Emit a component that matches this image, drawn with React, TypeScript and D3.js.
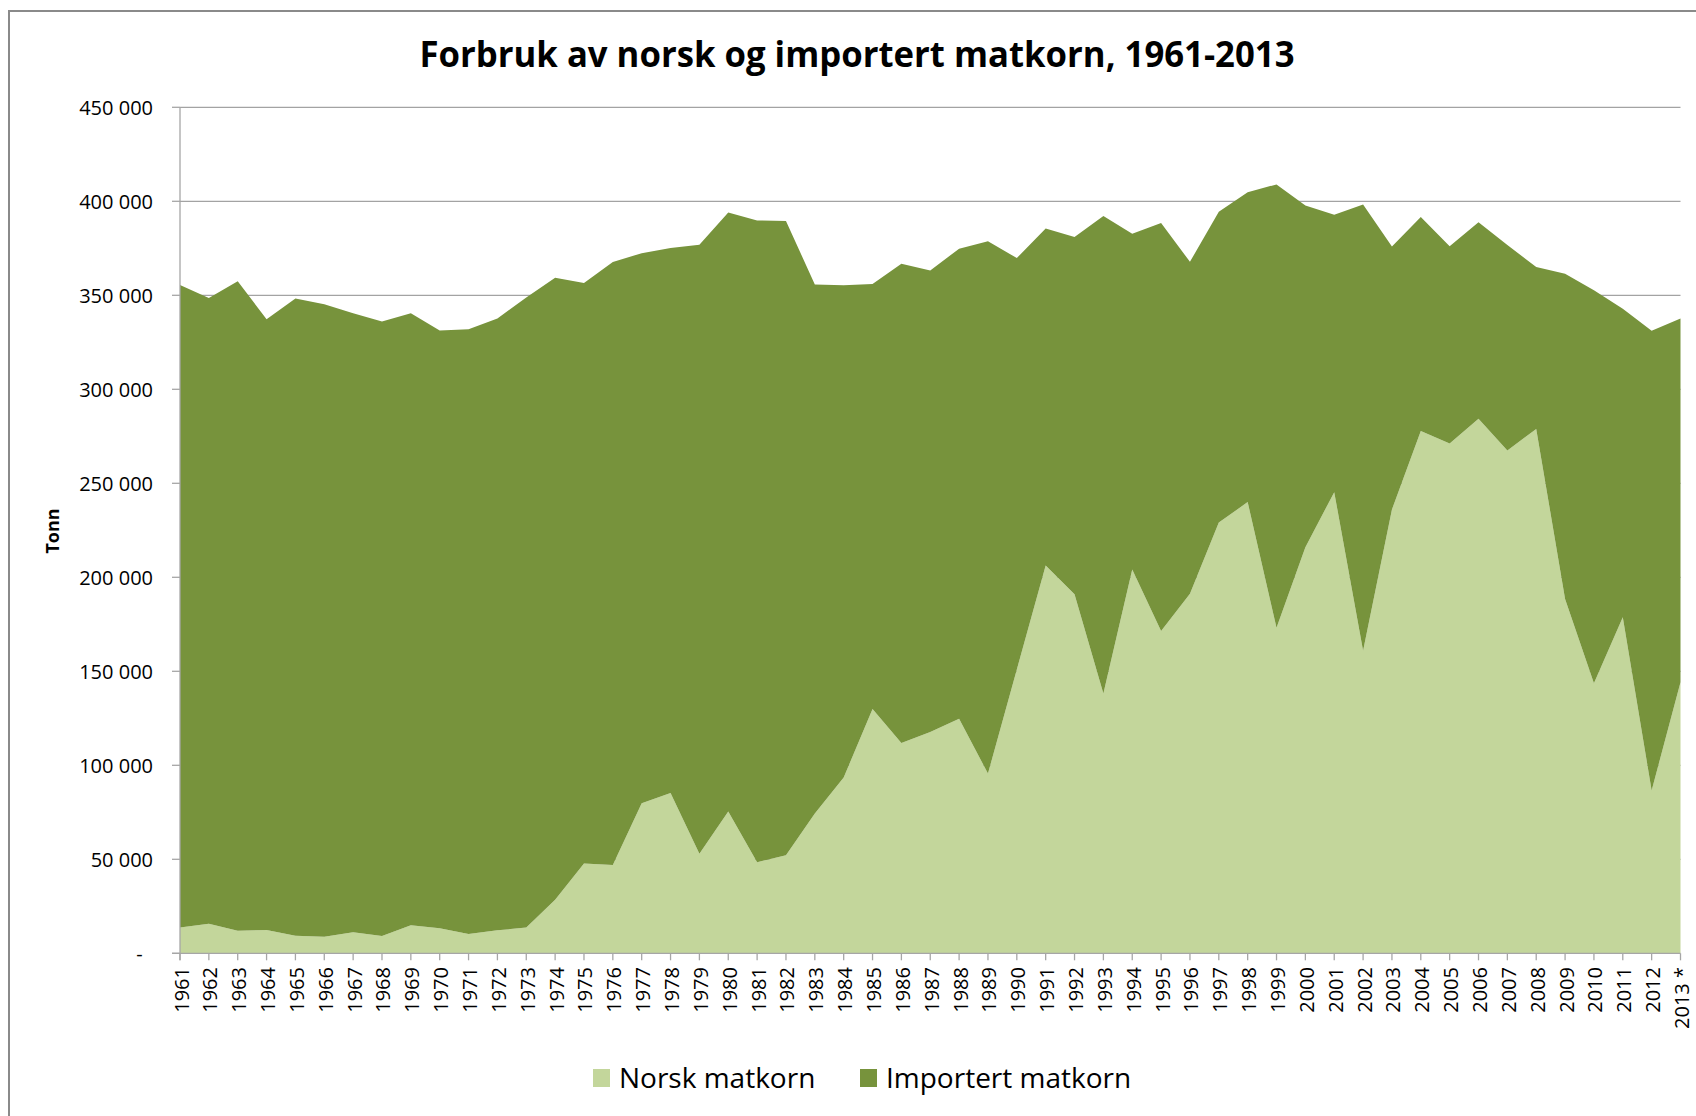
import { useEffect, useRef } from 'react'
import * as d3 from 'd3'

const years = [
  '1961', '1962', '1963', '1964', '1965', '1966', '1967', '1968', '1969', '1970',
  '1971', '1972', '1973', '1974', '1975', '1976', '1977', '1978', '1979', '1980',
  '1981', '1982', '1983', '1984', '1985', '1986', '1987', '1988', '1989', '1990',
  '1991', '1992', '1993', '1994', '1995', '1996', '1997', '1998', '1999', '2000',
  '2001', '2002', '2003', '2004', '2005', '2006', '2007', '2008', '2009', '2010',
  '2011', '2012', '2013 *',
]

// tonn
const norsk = [
  13700, 15700, 12000, 12400, 9400, 8800, 11200, 9200, 14900, 13300,
  10200, 12200, 13700, 28500, 47800, 47000, 79800, 85200, 53000, 75400,
  48400, 52200, 74300, 93500, 130000, 111800, 117700, 124700, 95600, 151000,
  206300, 191000, 138200, 204200, 171400, 191300, 229100, 240000, 173100, 216000,
  245300, 160900, 236100, 277800, 271200, 284300, 267500, 278900, 188500, 143700,
  178800, 86600, 144200,
]

const importert = [
  341800, 332900, 345500, 324900, 338900, 336500, 329300, 326800, 325600, 318000,
  321800, 325500, 335100, 330900, 308700, 320700, 292600, 290000, 323900, 318600,
  341400, 337300, 281500, 261900, 226000, 255000, 245500, 250100, 283200, 218800,
  179200, 190000, 254000, 178500, 217100, 176500, 165400, 164800, 235900, 181800,
  147500, 237400, 139900, 113900, 104900, 104600, 109300, 86100, 173000, 209000,
  164100, 244500, 193400,
]

const yTicks = [0, 50000, 100000, 150000, 200000, 250000, 300000, 350000, 400000, 450000]
const seriesNames = ['Norsk matkorn', 'Importert matkorn']
const seriesColors = ['#C3D69B', '#77933C']

const W = 1696
const H = 1116

export default function App() {
  const ref = useRef<SVGSVGElement | null>(null)
  useEffect(() => {
    const svg = d3.select(ref.current)
    svg.selectAll('*').remove()
    const left = 180
    const right = 1680.5
    const top = 107.3
    const bottom = 953.3

    svg.append('rect').attr('width', W).attr('height', H).attr('fill', '#fff')
    svg.append('rect')
      .attr('x', 9).attr('y', 11).attr('width', W + 20).attr('height', H + 20)
      .attr('fill', 'none').attr('stroke', '#8a8a8a').attr('stroke-width', 2)

    const x = d3.scalePoint<string>().domain(years).range([left, right]).padding(0)
    const y = d3.scaleLinear().domain([0, 450000]).range([bottom, top])

    const rows = years.map((yr, i) => ({ year: yr, norsk: norsk[i], importert: importert[i] }))
    const stacked = d3.stack<any>().keys(['norsk', 'importert'])(rows)

    // gridlines under the areas
    svg.append('g')
      .selectAll('line')
      .data(yTicks.filter((t) => t > 0))
      .enter()
      .append('line')
      .attr('x1', left).attr('x2', right)
      .attr('y1', (d) => y(d)).attr('y2', (d) => y(d))
      .attr('stroke', '#8c8c8c').attr('stroke-width', 1)

    const area = d3
      .area<any>()
      .x((d: any) => x(d.data.year) as number)
      .y0((d: any) => y(d[0]))
      .y1((d: any) => y(d[1]))

    stacked.forEach((s, i) => {
      svg.append('path').datum(s).attr('d', area as any).attr('fill', seriesColors[i])
    })

    // axes
    const axisCol = '#a6a6a6'
    svg.append('line').attr('x1', left).attr('x2', left).attr('y1', top).attr('y2', bottom + 7)
      .attr('stroke', axisCol).attr('stroke-width', 1.3)
    svg.append('line').attr('x1', left - 8).attr('x2', right).attr('y1', bottom).attr('y2', bottom)
      .attr('stroke', axisCol).attr('stroke-width', 1.3)

    const yg = svg.append('g')
    yTicks.forEach((t) => {
      yg.append('line').attr('x1', left - 8).attr('x2', left).attr('y1', y(t)).attr('y2', y(t))
        .attr('stroke', axisCol).attr('stroke-width', 1.3)
      yg.append('text')
        .attr('x', 153).attr('y', y(t))
        .attr('text-anchor', 'end').attr('dominant-baseline', 'central')
        .style('font-family', '"Open Sans", sans-serif').style('font-size', '20px').attr('fill', '#000')
        .text(t === 0 ? '-\u00a0\u00a0' : d3.format(',')(t).replace(/,/g, ' '))
    })

    const xg = svg.append('g')
    years.forEach((yr) => {
      const px = x(yr) as number
      xg.append('line').attr('x1', px).attr('x2', px).attr('y1', bottom).attr('y2', bottom + 7)
        .attr('stroke', axisCol).attr('stroke-width', 1.3)
      xg.append('text')
        .attr('transform', `translate(${px + 1},967) rotate(-90)`)
        .attr('text-anchor', 'end').attr('dominant-baseline', 'central')
        .style('font-family', '"Open Sans", sans-serif').style('font-size', '20px').attr('fill', '#000')
        .text(yr)
    })

    // title
    svg.append('text')
      .attr('x', 857).attr('y', 67)
      .attr('text-anchor', 'middle')
      .attr('textLength', 875).attr('lengthAdjust', 'spacingAndGlyphs')
      .style('font-family', '"Open Sans", sans-serif').style('font-weight', 'bold').style('font-size', '36px')
      .text('Forbruk av norsk og importert matkorn, 1961-2013')

    svg.append('text')
      .attr('transform', 'translate(52,531) rotate(-90)')
      .attr('text-anchor', 'middle').attr('dominant-baseline', 'central')
      .style('font-family', '"Open Sans", sans-serif').style('font-weight', 'bold').style('font-size', '18px')
      .text('Tonn')

    // legend
    const legendX = [593, 860]
    seriesNames.forEach((name, i) => {
      svg.append('rect').attr('x', legendX[i]).attr('y', 1069).attr('width', 17).attr('height', 18)
        .attr('fill', seriesColors[i])
      svg.append('text').attr('x', legendX[i] + 26).attr('y', 1088)
        .style('font-family', '"Open Sans", sans-serif').style('font-size', '28px').attr('fill', '#000')
        .text(name)
    })
  }, [])
  return <svg ref={ref} width={W} height={H} style={{ position: 'absolute', left: 0, top: 0 }} />
}
